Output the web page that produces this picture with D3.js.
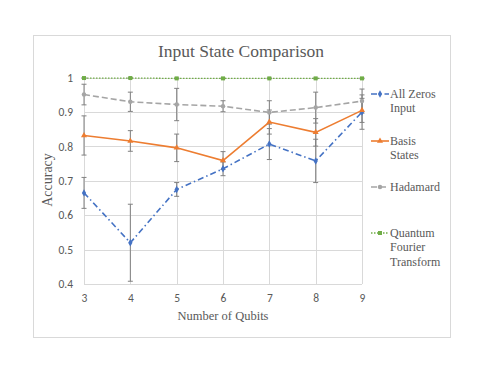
<!DOCTYPE html>
<html>
<head>
<meta charset="utf-8">
<script src="https://cdn.jsdelivr.net/npm/d3@7"></script>
<style>
  body { margin: 0; background: #fff; }
  text { fill: #595959; }
</style>
</head>
<body>
<div id="chart"></div>
<script>
const WIDTH = 485;
const HEIGHT = 374;

// data
const qubits = [3, 4, 5, 6, 7, 8, 9];
const allZeros = [0.665, 0.52, 0.675, 0.735, 0.807, 0.758, 0.90];
const allZerosErr = [0.045, 0.112, 0.02, 0.02, 0.045, 0.063, 0.05];
const basisStates = [0.832, 0.816, 0.796, 0.759, 0.871, 0.841, 0.905];
const basisErr = [0.057, 0.03, 0.04, 0.026, 0.035, 0.04, 0.035];
const hadamard = [0.951, 0.93, 0.922, 0.917, 0.899, 0.913, 0.932];
const hadamardErr = [0.03, 0.028, 0.047, 0.016, 0.034, 0.045, 0.035];
const qft = [0.999, 0.999, 0.998, 0.998, 0.998, 0.998, 0.998];
const qftErr = [0.001, 0.001, 0.001, 0.001, 0.001, 0.001, 0.001];
const yTicks = [0.4, 0.5, 0.6, 0.7, 0.8, 0.9, 1];

const series = [
  { name: ['All Zeros', 'Input'], values: allZeros, err: allZerosErr, color: '#4472C4', dash: '6,3,1.5,3', marker: d3.symbolDiamond, legendY: 94 },
  { name: ['Basis', 'States'], values: basisStates, err: basisErr, color: '#ED7D31', dash: null, marker: d3.symbolTriangle, legendY: 141 },
  { name: ['Hadamard'], values: hadamard, err: hadamardErr, color: '#A5A5A5', dash: '6,3', marker: d3.symbolCircle, legendY: 187 },
  { name: ['Quantum', 'Fourier', 'Transform'], values: qft, err: qftErr, color: '#70AD47', dash: '1.5,1.5', marker: d3.symbolSquare, legendY: 233 }
];

const svg = d3.select('#chart').append('svg')
  .attr('width', WIDTH)
  .attr('height', HEIGHT);

// chart frame
svg.append('rect')
  .attr('x', 33.5).attr('y', 35.5)
  .attr('width', 417).attr('height', 302)
  .attr('fill', '#fff')
  .attr('stroke', '#D9D9D9');

const x = d3.scaleLinear().domain([3, 9]).range([84, 362]);
const y = d3.scaleLinear().domain([0.4, 1]).range([284, 77.7]);

// gridlines
svg.append('g').selectAll('line.h')
  .data(yTicks).enter().append('line')
  .attr('x1', 84).attr('x2', 362)
  .attr('y1', d => Math.round(y(d)) + 0.5).attr('y2', d => Math.round(y(d)) + 0.5)
  .attr('stroke', '#D9D9D9');
svg.append('g').selectAll('line.v')
  .data(qubits).enter().append('line')
  .attr('y1', y(1)).attr('y2', y(0.4))
  .attr('x1', d => Math.round(x(d)) + 0.5).attr('x2', d => Math.round(x(d)) + 0.5)
  .attr('stroke', '#D9D9D9');

// axes
const yAxis = svg.append('g')
  .attr('transform', 'translate(84,0)')
  .call(d3.axisLeft(y).tickValues(yTicks).tickSize(0).tickPadding(11).tickFormat(d3.format('')));
const xAxis = svg.append('g')
  .attr('transform', 'translate(0,284)')
  .call(d3.axisBottom(x).tickValues(qubits).tickSize(0).tickPadding(10).tickFormat(d3.format('d')));
[yAxis, xAxis].forEach(a => {
  a.select('.domain').remove();
  a.selectAll('text').attr('font-family', 'Carlito, Calibri, "Liberation Sans", sans-serif')
    .attr('font-size', 11.5).style('fill', '#595959');
});

// titles
svg.append('text')
  .attr('x', 241).attr('y', 57)
  .attr('text-anchor', 'middle')
  .attr('font-family', '"Liberation Serif", serif')
  .attr('font-size', 17.5)
  .text('Input State Comparison');

svg.append('text')
  .attr('x', 223).attr('y', 320)
  .attr('text-anchor', 'middle')
  .attr('font-family', '"Liberation Serif", serif')
  .attr('font-size', 12.5)
  .text('Number of Qubits');

svg.append('text')
  .attr('transform', 'translate(52,180) rotate(-90)')
  .attr('text-anchor', 'middle')
  .attr('font-family', '"Liberation Serif", serif')
  .attr('font-size', 14)
  .text('Accuracy');

const line = d3.line()
  .x((d, i) => x(qubits[i]))
  .y(d => y(d));

// error bars first
series.forEach(s => {
  const g = svg.append('g');
  s.values.forEach((v, i) => {
    const cx = x(qubits[i]);
    const lo = y(v - s.err[i]), hi = y(v + s.err[i]);
    g.append('line').attr('x1', cx).attr('x2', cx).attr('y1', lo).attr('y2', hi)
      .attr('stroke', '#808080').attr('stroke-width', 1);
    [lo, hi].forEach(yy => {
      g.append('line').attr('x1', cx - 2.5).attr('x2', cx + 2.5).attr('y1', yy).attr('y2', yy)
        .attr('stroke', '#808080').attr('stroke-width', 1);
    });
  });
});

// lines + markers
series.forEach(s => {
  svg.append('path')
    .datum(s.values)
    .attr('d', line)
    .attr('fill', 'none')
    .attr('stroke', s.color)
    .attr('stroke-width', s.dash === '1.5,1.5' ? 1.3 : 1.6)
    .attr('stroke-dasharray', s.dash);
  svg.append('g').selectAll('path')
    .data(s.values).enter().append('path')
    .attr('transform', (d, i) => `translate(${x(qubits[i])},${y(d)})`)
    .attr('d', d3.symbol().type(s.marker).size(16))
    .attr('fill', s.color);
});

// legend
series.forEach(s => {
  const g = svg.append('g').attr('transform', `translate(0,${s.legendY})`);
  g.append('line').attr('x1', 371).attr('x2', 389).attr('y1', 0).attr('y2', 0)
    .attr('stroke', s.color).attr('stroke-width', 1.6)
    .attr('stroke-dasharray', s.dash);
  g.append('path').attr('transform', 'translate(380,0)')
    .attr('d', d3.symbol().type(s.marker).size(16)).attr('fill', s.color);
  s.name.forEach((t, k) => {
    g.append('text')
      .attr('x', 390).attr('y', 4 + k * 14.3)
      .attr('font-family', '"Liberation Serif", serif')
      .attr('font-size', 12)
      .text(t);
  });
});
</script>
</body>
</html>
